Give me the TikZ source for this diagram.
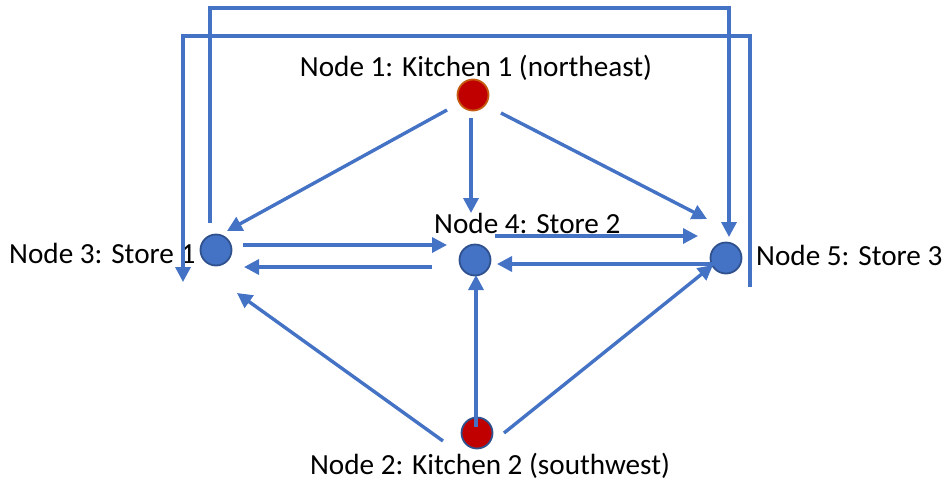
\documentclass[tikz,border=0pt]{standalone}
\usepackage{fontspec}
\setmainfont{Carlito}
\usetikzlibrary{arrows.meta,calc}
\definecolor{flowblue}{HTML}{4472C4}
\definecolor{ringblue}{HTML}{2F528F}
\definecolor{kitchenred}{HTML}{C00000}
\definecolor{ringbrown}{HTML}{C55A11}
\tikzset{
  store/.style={circle,fill=flowblue,draw=ringblue,line width=1.8pt,minimum size=31pt,inner sep=0pt},
  kitchen/.style={circle,fill=kitchenred,line width=1.8pt,minimum size=31pt,inner sep=0pt},
  flow/.style={draw=flowblue,line width=3.4pt,-{Triangle[length=15pt,width=15pt]}},
  label text/.style={font=\fontsize{29.2}{35}\selectfont,inner sep=0pt,text=black}
}
\begin{document}
\begin{tikzpicture}[x=1pt,y=-1pt]
\useasboundingbox (0,0) rectangle (943,485);

% locations
\node[kitchen,draw=ringbrown] (n1) at (473,95) {};
\node[kitchen,draw=ringblue]  (n2) at (477,433) {};
\node[store] (n3) at (216,250) {};
\node[store] (n4) at (475,260) {};
\node[store] (n5) at (726,258) {};

% captions
\node[label text,anchor=base] (t1) at (476,76) {Node 1: Kitchen 1 (northeast)};
\node[label text,anchor=base] (t2) at (490,474) {Node 2: Kitchen 2 (southwest)};
\node[label text,anchor=base west] (t3) at (9,263) {Node 3: Store 1};
\node[label text,anchor=base west] (t4) at (434,233) {Node 4: Store 2};
\node[label text,anchor=base west] (t5) at (756,265) {Node 5: Store 3};

% deliveries from kitchen 1
\draw[flow] ($(n1)+(-26,15)$) -- ($(n3)+(11,-19)$);
\draw[flow] ($(n1)+(-2,23)$) -- ($(n4)+(-4,-47)$);
\draw[flow] ($(n1)+(28,18)$) -- ($(n5)+(-19,-39)$);

% transfers between stores
\draw[flow] ($(n3)+(27,-5)$) -- ($(n4)+(-28,-15)$);
\draw[flow] ($(n4)+(-43,7)$) -- ($(n3)+(28,17)$);
\draw[flow] ($(n4)+(20,-24)$) -- ($(n5)+(-28,-22)$);
\draw[flow] ($(n5)+(-9,6)$) -- ($(n4)+(22,4)$);

% deliveries from kitchen 2
\draw[flow] ($(n2)+(-1,-6)$) -- ($(n4)+(1,15)$);
\draw[flow] ($(n2)+(-34,8)$) -- ($(n3)+(21,43)$);
\draw[flow] ($(n2)+(27,0)$) -- ($(n5)+(-13,7)$);

% long routes over the top
\draw[flow] ($(n3)+(-6,-27)$) |- ($(n5)+(3,-250)$) -- ($(n5)+(3,-21)$);
\draw[flow] ($(n5)+(24,29)$) |- ($(n3)+(-33,-214)$) -- ($(n3)+(-33,32)$);
\end{tikzpicture}
\end{document}
